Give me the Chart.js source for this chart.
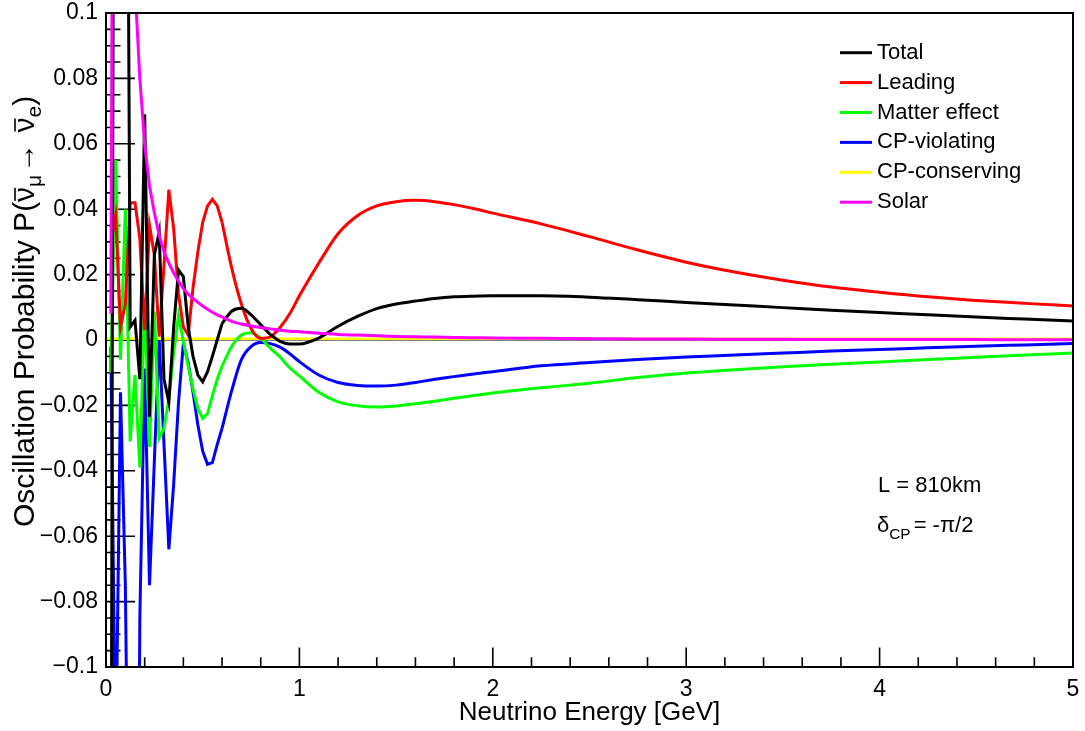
<!DOCTYPE html>
<html>
<head>
<meta charset="utf-8">
<script src="https://cdn.jsdelivr.net/npm/chart.js@4.4.0/dist/chart.umd.min.js"></script>
<style>
    html, body { margin: 0; padding: 0; background: #ffffff; }
    #wrap { width: 1085px; height: 731px; }
</style>
</head>
<body>
<div id="wrap"><canvas id="oscChart" width="1085" height="731"></canvas></div>
<script>
// neutrino energy in GeV (fine steps where the curves oscillate fast)
const energies = [
    0.025, 0.05, 0.075, 0.1, 0.125, 0.15, 0.175, 0.2, 0.225, 0.25, 0.275, 0.3,
    0.325, 0.35, 0.375, 0.4, 0.425, 0.45, 0.475, 0.5, 0.525, 0.55, 0.575, 0.6,
    0.65, 0.7, 0.75, 0.8, 0.85, 0.9, 0.95, 1.0,
    1.1, 1.2, 1.3, 1.4, 1.5, 1.6, 1.7, 1.8, 1.9, 2.0,
    2.25, 2.5, 2.75, 3.0, 3.25, 3.5, 3.75, 4.0, 4.25, 4.5, 4.75, 5.0
];

const total = [
    -0.2, 0.45, 0.4, 0.3, 0.004, 0.006, -0.012, 0.069, -0.0235, 0.026, 0.033, -0.012,
    -0.019, 0.004, 0.0214, 0.0194, 0.004, -0.005, -0.0107, -0.0128, -0.0097, -0.005, 0.0, 0.005,
    0.0088, 0.0097, 0.0077, 0.0047, 0.0017, -0.0004, -0.0012, -0.0012,
    0.0006, 0.0042, 0.0072, 0.0096, 0.0110, 0.0119, 0.0127, 0.0132, 0.0134, 0.0135,
    0.0135, 0.0131, 0.0123, 0.0115, 0.0107, 0.0099, 0.0091, 0.0084, 0.0077, 0.0070, 0.0064, 0.0058
];

const leading = [
    0.03, 0.038, 0.004, 0.011, 0.042, 0.042, 0.031, 0.003, 0.035, 0.026, 0.001, 0.023,
    0.046, 0.034, 0.014, 0.004, 0.0015, 0.016, 0.027, 0.036, 0.041, 0.043, 0.041, 0.036,
    0.022, 0.011, 0.0035, 0.0005, 0.001, 0.0038, 0.008, 0.0135,
    0.0235, 0.0325, 0.038, 0.041, 0.0423, 0.0427, 0.0423, 0.0414, 0.0402, 0.0388,
    0.0355, 0.0316, 0.0275, 0.0238, 0.0208, 0.0183, 0.0162, 0.0146, 0.0132, 0.0121, 0.0112, 0.0104
];

const matterEffect = [
    -0.01, 0.055, -0.006, 0.040, -0.031, -0.0107, -0.039, 0.012, -0.0327, 0.0087, -0.03, -0.027,
    -0.018, -0.004, 0.0075, -0.0005, -0.008, -0.015, -0.021, -0.024, -0.0225, -0.017, -0.012, -0.008,
    -0.002, 0.0015, 0.0022, 0.0005, -0.0025, -0.0052, -0.0085, -0.011,
    -0.0160, -0.0189, -0.0201, -0.0205, -0.0202, -0.0195, -0.0187, -0.0178, -0.0170, -0.0162,
    -0.0146, -0.0132, -0.0115, -0.0101, -0.0091, -0.0082, -0.0074, -0.0067, -0.0060, -0.0053, -0.0046, -0.0040
];

const cpViolating = [
    -0.002, -0.132, -0.016, -0.075, -0.2, -0.3, -0.085, -0.0087, -0.075, -0.037, 0.0, -0.032,
    -0.064, -0.044, -0.019, -0.001, -0.007, -0.016, -0.026, -0.034, -0.038, -0.0375, -0.032, -0.027,
    -0.0155, -0.006, -0.002, -0.0008, -0.0011, -0.0022, -0.0042, -0.0066,
    -0.0107, -0.0130, -0.0139, -0.0141, -0.0138, -0.0130, -0.0120, -0.0112, -0.0104, -0.0097,
    -0.0079, -0.0069, -0.0060, -0.0052, -0.0046, -0.0040, -0.0034, -0.0029, -0.0024, -0.0019, -0.0015, -0.0011
];

// CP-conserving term is flat (cos(delta) = 0)
const cpEnergies = [0.0, 5.0];
const cpConserving = [0.0004, 0.0004];

const solar = [
    0.008, 0.40, 0.35, 0.24, 0.16, 0.108, 0.080, 0.060, 0.047, 0.039, 0.032, 0.027,
    0.0235, 0.0205, 0.018, 0.0157, 0.014, 0.0127, 0.0115, 0.0104, 0.0094, 0.0085, 0.0077, 0.0071,
    0.0057, 0.0049, 0.0043, 0.0038, 0.0034, 0.0030, 0.0027, 0.0025,
    0.0021, 0.0017, 0.0015, 0.0013, 0.0011, 0.0010, 0.0009, 0.0008, 0.0007, 0.0006,
    0.0005, 0.0004, 0.0003, 0.00027, 0.00024, 0.0002, 0.00018, 0.00016, 0.00014, 0.00012, 0.00011, 0.0001
];

const xTickValues = [0, 1, 2, 3, 4, 5];
const xTickLabels = ['0', '1', '2', '3', '4', '5'];
const yTickValues = [-0.1, -0.08, -0.06, -0.04, -0.02, 0, 0.02, 0.04, 0.06, 0.08, 0.1];
const yTickLabels = ['\u22120.1', '\u22120.08', '\u22120.06', '\u22120.04', '\u22120.02', '0',
    '0.02', '0.04', '0.06', '0.08', '0.1'];

const FONT = '"Liberation Sans", Arial, Helvetica, sans-serif';

// below this index the samples are joined by straight lines, above it smoothly
const SPLIT = 23;

function toPoints(xs, ys) {
    return xs.map((x, i) => ({x: x, y: ys[i]}));
}

function lineSet(label, xs, ys, color, width, order, smooth) {
    return {
        label: label,
        data: toPoints(xs, ys),
        borderColor: color,
        backgroundColor: color,
        borderWidth: width,
        pointRadius: 0,
        tension: 0,
        cubicInterpolationMode: smooth ? 'monotone' : 'default',
        fill: false,
        clip: 0,
        order: order
    };
}

// one curve = jagged low-energy part + smooth high-energy part
function curve(label, ys, color, order) {
    return [
        lineSet(label, energies.slice(0, SPLIT + 1), ys.slice(0, SPLIT + 1), color, 3, order, false),
        lineSet(label, energies.slice(SPLIT), ys.slice(SPLIT), color, 3, order, true)
    ];
}

const series = [
    {label: 'Total', color: '#000000'},
    {label: 'Leading', color: '#ff0000'},
    {label: 'Matter effect', color: '#00ff00'},
    {label: 'CP-violating', color: '#0000ff'},
    {label: 'CP-conserving', color: '#ffff00'},
    {label: 'Solar', color: '#ff00ff'}
];

// draws text pieces one after another; pieces can be smaller, shifted or barred
function drawPieces(ctx, pieces, size) {
    let x = 0;
    pieces.forEach(p => {
        const s = size * (p.scale || 1);
        ctx.font = s + 'px ' + FONT;
        const w = ctx.measureText(p.text).width;
        ctx.fillText(p.text, x, p.dy || 0);
        if (p.bar) {
            ctx.fillRect(x + 1, -size * 0.66, w - 2, 1.6);
        }
        x += w + (p.gap || 0);
    });
}

const rootStyle = {
    id: 'rootStyle',
    beforeDatasetsDraw(chart) {
        const {ctx, chartArea: a, scales: {x, y}} = chart;
        ctx.save();
        ctx.strokeStyle = '#000000';
        ctx.lineWidth = 1.6;
        ctx.beginPath();
        // y ticks, drawn inside the frame
        for (let i = -20; i <= 20; i++) {
            const py = y.getPixelForValue(i * 0.005);
            const len = (i % 4 === 0) ? 29 : 14.5;
            ctx.moveTo(a.left, py);
            ctx.lineTo(a.left + len, py);
        }
        // x ticks
        for (let i = 0; i <= 25; i++) {
            const px = x.getPixelForValue(i * 0.2);
            const len = (i % 5 === 0) ? 19.6 : 9.8;
            ctx.moveTo(px, a.bottom);
            ctx.lineTo(px, a.bottom - len);
        }
        ctx.stroke();
        ctx.restore();
    },
    afterDraw(chart) {
        const {ctx, chartArea: a} = chart;
        ctx.save();

        // frame
        ctx.strokeStyle = '#000000';
        ctx.lineWidth = 2;
        ctx.strokeRect(a.left, a.top, a.right - a.left, a.bottom - a.top);

        // legend
        const lx = 840, ly = 52.7, step = 29.9;
        ctx.font = '22px ' + FONT;
        ctx.textBaseline = 'alphabetic';
        ctx.textAlign = 'left';
        series.forEach((s, i) => {
            const yy = ly + i * step;
            ctx.strokeStyle = s.color;
            ctx.lineWidth = 3;
            ctx.beginPath();
            ctx.moveTo(lx, yy);
            ctx.lineTo(lx + 32, yy);
            ctx.stroke();
            ctx.fillStyle = '#000000';
            ctx.fillText(s.label, lx + 37, yy + 6);
        });

        // baseline and phase text
        ctx.fillStyle = '#000000';
        ctx.font = '22px ' + FONT;
        ctx.fillText('L = 810km', 878, 492);
        ctx.save();
        ctx.translate(877, 532);
        drawPieces(ctx, [
            {text: '\u03b4'},
            {text: 'CP', scale: 0.7, dy: 7, gap: 3},
            {text: '= -\u03c0/2'}
        ], 22);
        ctx.restore();

        // axis titles
        ctx.font = '26px ' + FONT;
        ctx.textAlign = 'center';
        ctx.fillText('Neutrino Energy [GeV]', (a.left + a.right) / 2, 720);

        ctx.textAlign = 'left';
        ctx.save();
        ctx.translate(34, 527);
        ctx.rotate(-Math.PI / 2);
        drawPieces(ctx, [
            {text: 'Oscillation Probability P('},
            {text: '\u03bd', bar: true},
            {text: '\u03bc', scale: 0.7, dy: 7, gap: 2},
            {text: '\u2192 ', gap: 2},
            {text: '\u03bd', bar: true},
            {text: 'e', scale: 0.7, dy: 7},
            {text: ')'}
        ], 30);
        ctx.restore();

        ctx.restore();
    }
};

const ctx = document.getElementById('oscChart').getContext('2d');
const oscChart = new Chart(ctx, {
    type: 'line',
    data: {
        datasets: [].concat(
            curve('Total', total, '#000000', 1),
            curve('Leading', leading, '#ff0000', 2),
            curve('Matter effect', matterEffect, '#00ff00', 3),
            curve('CP-violating', cpViolating, '#0000ff', 4),
            [lineSet('CP-conserving', cpEnergies, cpConserving, '#ffff00', 2.5, 5, false)],
            curve('Solar', solar, '#ff00ff', 0)
        )
    },
    options: {
        responsive: false,
        animation: false,
        devicePixelRatio: 1,
        layout: {padding: {left: 0, top: 13, right: 12, bottom: 0}},
        plugins: {
            legend: {display: false},
            tooltip: {enabled: false}
        },
        scales: {
            x: {
                type: 'linear',
                min: 0,
                max: 5,
                afterFit: function (scale) {
                    scale.height = 64;
                    scale.paddingLeft = 0;
                    scale.paddingRight = 0;
                },
                afterBuildTicks: function (scale) {
                    scale.ticks = xTickValues.map(v => ({value: v}));
                },
                grid: {display: false, drawTicks: false},
                border: {display: false},
                ticks: {
                    padding: 9,
                    autoSkip: false,
                    maxRotation: 0,
                    color: '#000000',
                    font: {family: FONT, size: 23},
                    callback: function (value, index) { return xTickLabels[index]; }
                }
            },
            y: {
                type: 'linear',
                min: -0.1,
                max: 0.1,
                afterFit: function (scale) {
                    scale.width = 106;
                    scale.paddingTop = 0;
                    scale.paddingBottom = 0;
                },
                afterBuildTicks: function (scale) {
                    scale.ticks = yTickValues.map(v => ({value: v}));
                },
                grid: {
                    drawTicks: false,
                    lineWidth: 1.5,
                    color: function (c) {
                        return (c.tick && Math.abs(c.tick.value) < 1e-9) ? '#000000' : 'rgba(0,0,0,0)';
                    }
                },
                border: {display: false},
                ticks: {
                    padding: 8,
                    autoSkip: false,
                    color: '#000000',
                    font: {family: FONT, size: 23},
                    callback: function (value, index) { return yTickLabels[index]; }
                }
            }
        }
    },
    plugins: [rootStyle]
});
</script>
</body>
</html>
